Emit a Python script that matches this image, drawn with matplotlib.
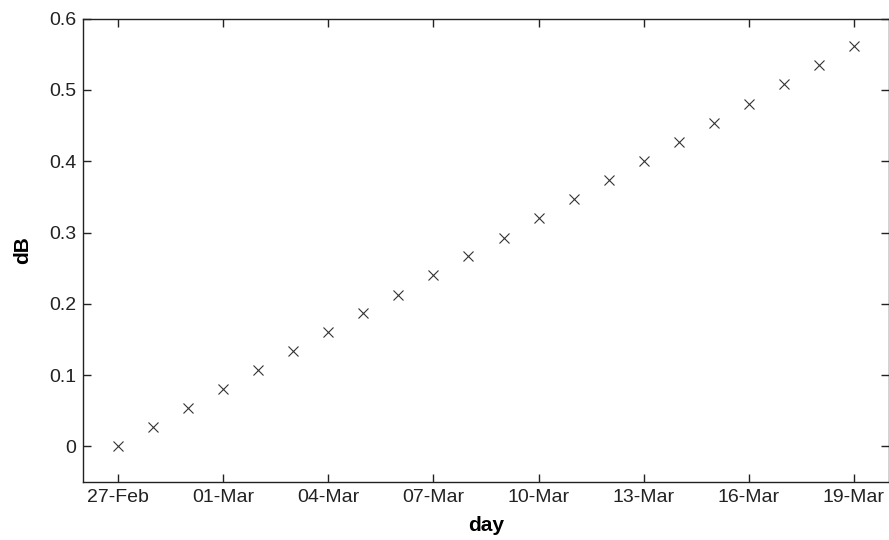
import datetime as dt
import matplotlib
matplotlib.use('Agg')
import matplotlib.pyplot as plt
import matplotlib.dates as mdates

#%% data
day_ = [dt.datetime(2008, 2, 27) + dt.timedelta(days=i) for i in range(22)]
dB_ = [0.000, 0.027, 0.054, 0.080, 0.107, 0.134, 0.160, 0.187, 0.213, 0.240, 0.267,
       0.293, 0.320, 0.347, 0.374, 0.400, 0.427, 0.454, 0.481, 0.508, 0.535, 0.562]

#%% plot
plt.rc('font', family='Liberation Sans')
plt.rcParams['font.size'] = 14
plt.rcParams['xtick.direction'] = 'in'
plt.rcParams['ytick.direction'] = 'in'

fig = plt.figure(figsize=(8.89, 5.40), dpi=100)
ax = fig.add_axes([0.0934, 0.1074, 0.9066, 0.8580])
ax.plot(day_, dB_, linestyle='none', marker='x', markersize=7, markeredgewidth=0.8,
        color='#333333')

ax.set_xlim(dt.datetime(2008, 2, 26), dt.datetime(2008, 3, 20))
ax.set_ylim(-0.05, 0.6)
ax.set_yticks([0, 0.1, 0.2, 0.3, 0.4, 0.5, 0.6])
ax.set_yticklabels(['0', '0.1', '0.2', '0.3', '0.4', '0.5', '0.6'])
ax.set_xticks([dt.datetime(2008, 2, 27) + dt.timedelta(days=3 * i) for i in range(8)])
ax.xaxis.set_major_formatter(mdates.DateFormatter('%d-%b'))
ax.tick_params(top=True, right=True, length=6, width=1, pad=5, colors='#222222')
for s in ax.spines.values():
    s.set_linewidth(1)
    s.set_color('#222222')

ax.set_xlabel('day', fontweight='bold', fontsize=15, labelpad=7)
ax.set_ylabel('dB', fontweight='bold', fontsize=15, labelpad=12)

fig.savefig('out.png', dpi=100)
